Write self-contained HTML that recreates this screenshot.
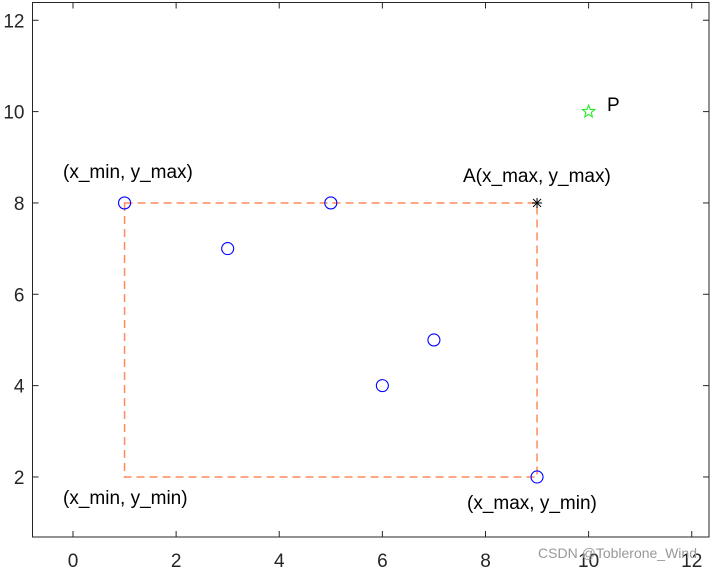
<!DOCTYPE html>
<html><head><meta charset="utf-8"><style>
body{margin:0;background:#fff;}
svg{display:block;font-family:"Liberation Sans",Arial,sans-serif;}
</style></head><body>
<svg id="chart" width="712" height="570"></svg>
<script>
const xTicks=[0,2,4,6,8,10,12];
const yTicks=[2,4,6,8,10,12];
const ptsX=[1,3,5,6,7,9];
const ptsY=[8,7,8,4,5,2];
const rectX=[1,9];
const rectY=[2,8];
const aPoint=[9,8];
const pPoint=[10,10];
const L=32.5,R=709,T=2.5,B=537;
function sx(v){return 73+v*51.56;}
function sy(v){return 568.3-v*45.67;}
const svg=document.getElementById('chart');
const NS='http://www.w3.org/2000/svg';
function mk(tag,attrs,parent){const e=document.createElementNS(NS,tag);for(const k in attrs)e.setAttribute(k,attrs[k]);(parent||svg).appendChild(e);return e;}
const frame=mk('rect',{x:L,y:T,width:R-L,height:B-T,fill:'none',stroke:'#262626','stroke-width':1});


xTicks.forEach(v=>{
 const x=sx(v);
 const t1=mk('line',{x1:x,x2:x,y1:B,y2:B-6,stroke:'#262626'});
 
 
 const t2=mk('line',{x1:x,x2:x,y1:T,y2:T+6,stroke:'#262626'});
 
 
 const lb=mk('text',{x:x,y:B+30,'text-anchor':'middle','font-size':19,fill:'#262626'});
 lb.textContent=v;
 
 
});
yTicks.forEach(v=>{
 const y=sy(v);
 const t1=mk('line',{x1:L,x2:L+6,y1:y,y2:y,stroke:'#262626'});
 
 
 const t2=mk('line',{x1:R,x2:R-6,y1:y,y2:y,stroke:'#262626'});
 
 
 const lb=mk('text',{x:L-8,y:y+7,'text-anchor':'end','font-size':19,fill:'#262626'});
 lb.textContent=v;
 
 
});
const rc=mk('rect',{x:sx(rectX[0]),y:sy(rectY[1]),width:sx(rectX[1])-sx(rectX[0]),height:sy(rectY[0])-sy(rectY[1]),fill:'none',stroke:'#ff8a5c','stroke-width':1.5,'stroke-dasharray':'8,5'});


ptsX.forEach((v,i)=>{
 const c=mk('circle',{cx:sx(v),cy:sy(ptsY[i]),r:6,fill:'none',stroke:'#0000ff','stroke-width':1.1});
 
 
});
const ax=sx(aPoint[0]),ay=sy(aPoint[1]);
const ast=mk('g',{stroke:'#000','stroke-width':1});


[[-5,0,5,0],[0,-5,0,5],[-4,-4,4,4],[-4,4,4,-4]].forEach(d=>mk('line',{x1:ax+d[0],y1:ay+d[1],x2:ax+d[2],y2:ay+d[3]},ast));
const px=sx(pPoint[0]),py=sy(pPoint[1]);
let pts=[];for(let i=0;i<10;i++){const r=i%2?2.8:6.5;const a=-Math.PI/2+i*Math.PI/5;pts.push((px+r*Math.cos(a)).toFixed(1)+','+(py+r*Math.sin(a)).toFixed(1));}
const star=mk('polygon',{points:pts.join(' '),fill:'none',stroke:'#22ee22','stroke-width':1.1});


const labels=[['(x_min, y_max)',63,178,'label-xmin-ymax'],['A(x_max, y_max)',463,182,'label-a-xmax-ymax'],['(x_min, y_min)',63,504,'label-xmin-ymin'],['(x_max, y_min)',467,509,'label-xmax-ymin'],['P',607,111,'label-p']];
labels.forEach(l=>{
 const t=mk('text',{x:l[1],y:l[2],'font-size':19,fill:'#000'});
 t.textContent=l[0];
 
 
});
const wm=mk('text',{x:697,y:558,'text-anchor':'end','font-size':14,fill:'#999'});
wm.textContent='CSDN @Toblerone_Wind';


</script>
</body></html>
